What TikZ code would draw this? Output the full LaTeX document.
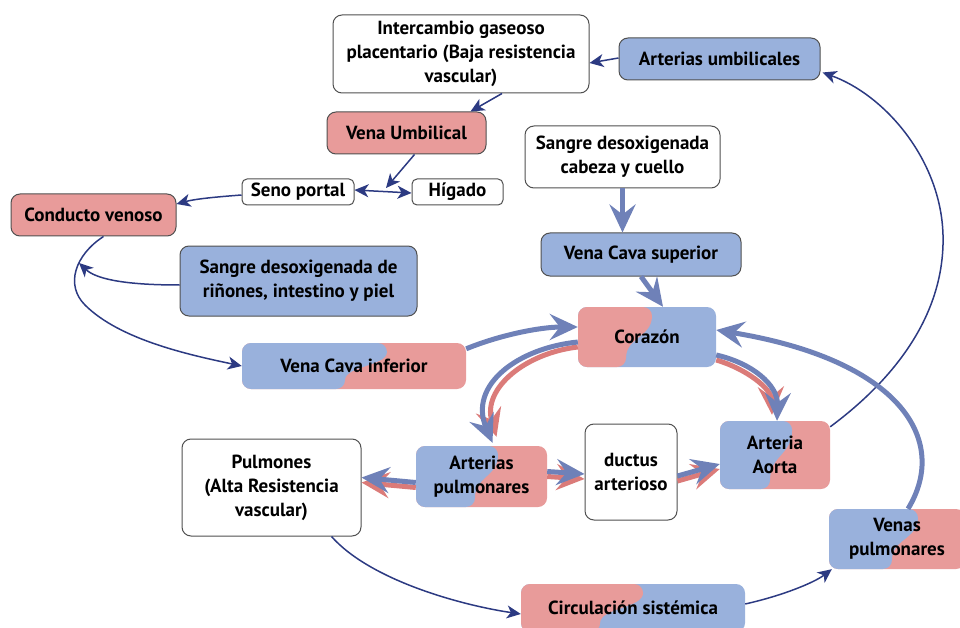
\documentclass[tikz,border=0pt]{standalone}
\usepackage{fontspec}
\setmainfont{PT Sans}
\usepackage{tikz}
\usetikzlibrary{arrows.meta,calc}

\definecolor{rojo}{HTML}{E89B9A}
\definecolor{azul}{HTML}{99B1DC}
\definecolor{marino}{HTML}{2C3A82}
\definecolor{flechaazul}{HTML}{6F81B8}
\definecolor{flecharoja}{HTML}{DB7B79}
\definecolor{borde}{HTML}{505050}

\tikzset{
  caja/.style={rounded corners=9pt, align=center, inner sep=0pt,
    font=\bfseries\fontsize{19}{24}\selectfont},
  blanca/.style={caja, draw=borde, fill=white, line width=1pt},
  azulada/.style={caja, draw=borde, fill=azul, line width=1pt},
  rojiza/.style={caja, draw=borde, fill=rojo, line width=1pt},
  mixta/.style n args={4}{caja, fill=#2, path picture={
    \fill[#1] let \p1=(path picture bounding box.north west), \p2=(path picture bounding box.south east) in
      (\x1,\y1) -- ({\x1+#3*(\x2-\x1)},\y1)
      .. controls ({\x1+#3*(\x2-\x1)},{0.5*(\y1+\y2)}) and ({\x1+#4*(\x2-\x1)},{0.5*(\y1+\y2)}) .. ({\x1+#4*(\x2-\x1)},\y2)
      -- (\x1,\y2) -- cycle;}},
  fina/.style={marino, line width=1.5pt, -{Stealth[length=14pt,width=13pt,inset=4pt]}},
  gruesa/.style={line width=5pt, -{Stealth[length=28pt,width=26pt,inset=10pt]}},
}

\begin{document}
\begin{tikzpicture}[x=1pt,y=-1pt]

\useasboundingbox (0,0) rectangle (960,628);

% cajas
\node[blanca, minimum width=256, minimum height=78] (inter) at (461,54) {Intercambio gaseoso\\placentario (Baja resistencia\\vascular)};
\node[azulada, minimum width=201, minimum height=42] (artumb) at (719.5,59) {Arterias umbilicales};
\node[rojiza, minimum width=159, minimum height=42] (venaumb) at (406.5,133) {Vena Umbilical};
\node[blanca, rounded corners=5pt, minimum width=112, minimum height=26] (seno) at (298,192) {Seno portal};
\node[blanca, rounded corners=5pt, minimum width=91, minimum height=26] (higado) at (457.5,192) {Hígado};
\node[rojiza, minimum width=165, minimum height=42] (conducto) at (93.5,215) {Conducto venoso};
\node[azulada, minimum width=237, minimum height=70] (sangreR) at (298.5,281) {Sangre desoxigenada de\\riñones, intestino y piel};
\node[blanca, minimum width=195, minimum height=62] (sangreC) at (622.5,157) {Sangre desoxigenada\\cabeza y cuello};
\node[azulada, minimum width=200, minimum height=43] (vcs) at (641,254.5) {Vena Cava superior};
\node[mixta={rojo}{azul}{0.536}{0.348}, minimum width=138, minimum height=60] (corazon) at (647,337) {Corazón};
\node[mixta={azul}{rojo}{0.647}{0.46}, minimum width=224, minimum height=46] (vci) at (354,366) {Vena Cava inferior};
\node[mixta={azul}{rojo}{0.626}{0.45}, minimum width=131, minimum height=61] (artpul) at (481.5,476.5) {Arterias\\pulmonares};
\node[blanca, minimum width=92, minimum height=96] (ductus) at (631,472) {ductus\\arterioso};
\node[mixta={azul}{rojo}{0.655}{0.455}, minimum width=110, minimum height=68] (aorta) at (775,455) {Arteria\\Aorta};
\node[blanca, minimum width=179, minimum height=97] (pulmones) at (271.5,487.5) {Pulmones\\(Alta Resistencia\\vascular)};
\node[mixta={azul}{rojo}{0.654}{0.463}, minimum width=136, minimum height=60] (venasp) at (897,539) {Venas\\pulmonares};
\node[mixta={rojo}{azul}{0.545}{0.353}, minimum width=224, minimum height=48] (circ) at (633,608) {Circulación sistémica};

\coordinate (cruce) at (386,188);
\coordinate (union) at (79,263);
\coordinate (codo) at (85,305);
\coordinate (arco) at (943,235);

% flechas finas
\draw[fina] ([yshift=1pt]artumb.west) -- ([yshift=-9pt]inter.east);
\draw[fina] ([xshift=41pt]inter.south) -- ([xshift=-16pt]venaumb.north east);
\draw[fina] ([xshift=8pt]venaumb.south) -- (cruce);
\draw[fina, {Stealth[length=14pt,width=13pt,inset=4pt]}-{Stealth[length=14pt,width=13pt,inset=4pt]}] ([yshift=2pt]seno.east) -- ([yshift=-1pt]higado.west);
\draw[fina] ([yshift=-3pt]seno.west) .. controls (215,197) and (195,199) .. ([yshift=11pt]conducto.east);
\draw[fina] ([xshift=10pt]conducto.south) .. controls (75,255) and (65,285) .. (codo) .. controls (120,340) and (190,355) .. (vci.west);
\draw[fina] ([yshift=-4pt]sangreR.west) .. controls (120,285) and (95,278) .. (union);
\draw[fina] ([yshift=-6pt]aorta.north east) .. controls (900,375) and (945,310) .. (arco) .. controls (941,160) and (885,95) .. ([xshift=2pt,yshift=8pt]artumb.south east);
\draw[fina] ([xshift=-30pt]pulmones.south east) .. controls (370,580) and (460,605) .. ([yshift=-6pt]circ.west);
\draw[fina] ([yshift=4pt]circ.east) .. controls (785,595) and (815,582) .. ([xshift=3pt]venasp.south west);

% flechas gruesas
\draw[gruesa, flechaazul] (sangreC.south) -- (sangreC.south |- vcs.north);
\draw[gruesa, flechaazul] (vcs.south) -- ([xshift=16pt]corazon.north);
\draw[gruesa, flechaazul] ([yshift=-6pt]vci.north east) .. controls (500,335) and (540,327) .. ([yshift=10pt]corazon.west);
\draw[gruesa, flechaazul] ([xshift=11pt]venasp.north) .. controls (950,440) and (900,360) .. ([yshift=7pt]corazon.east);

\draw[gruesa, flecharoja] ([yshift=-10pt]corazon.west) .. controls (526,353) and (482,388) .. ([xshift=15pt,yshift=9pt]artpul.north);
\draw[gruesa, flechaazul] ([yshift=-5pt]corazon.west) .. controls (518,348) and (468,385) .. ([xshift=11pt,yshift=3pt]artpul.north);

\draw[gruesa, flecharoja] ([yshift=-23pt]corazon.east) .. controls (747,369) and (771,389) .. ([xshift=-3pt,yshift=6pt]aorta.north);
\draw[gruesa, flechaazul] ([yshift=-18pt]corazon.east) .. controls (752,363) and (778,385) .. ([xshift=2pt]aorta.north);

\draw[gruesa, flecharoja] ([yshift=-11pt]artpul.west) -- ([yshift=5pt]pulmones.east);
\draw[gruesa, flechaazul] ([yshift=-6pt]artpul.west) -- ([yshift=10pt]pulmones.east);

\draw[gruesa, flecharoja] (artpul.east) -- ([yshift=-7pt]ductus.west);
\draw[gruesa, flechaazul] ([yshift=5pt]artpul.east) -- ([yshift=-2pt]ductus.west);

\draw[gruesa, flecharoja] ([yshift=-9pt]ductus.east) -- ([yshift=-14pt]aorta.west);
\draw[gruesa, flechaazul] ([yshift=-4pt]ductus.east) -- ([yshift=-9pt]aorta.west);

\end{tikzpicture}
\end{document}
